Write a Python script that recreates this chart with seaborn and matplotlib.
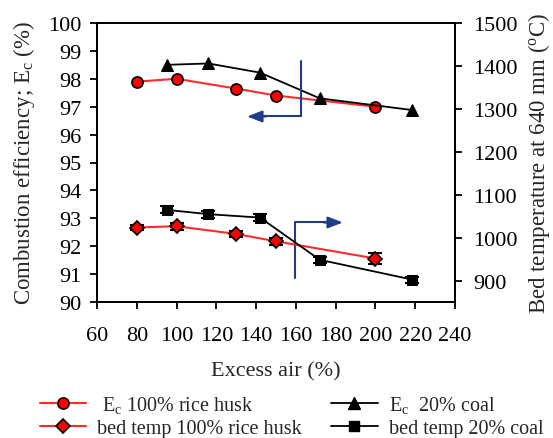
import matplotlib
matplotlib.use("Agg")
import matplotlib.pyplot as plt
import seaborn as sns
import pandas as pd
from matplotlib.lines import Line2D

# ---- data ----
rh_air = [80, 100, 130, 150, 200]
rh_ec = [97.9, 98.0, 97.65, 97.4, 97.0]
rh_bed = [1025, 1028, 1010, 993, 953]
rh_bed_err = [6, 8, 7, 8, 12]

coal_air = [95, 116, 142, 172, 218.5]
coal_ec = [98.5, 98.55, 98.22, 97.3, 96.88]
coal_bed = [1066, 1056, 1048, 950, 904]
coal_bed_err = [8, 8, 8, 7, 7]

x_ticks = [60, 80, 100, 120, 140, 160, 180, 200, 220, 240]
left_ticks = list(range(90, 101))
right_ticks = [900, 1000, 1100, 1200, 1300, 1400, 1500]

labels = [r" E$_\mathrm{c}$ 100% rice husk", "bed temp 100% rice husk",
          r"E$_\mathrm{c}$  20% coal", "bed temp 20% coal"]

sns.set_style("ticks")
plt.rcParams["font.family"] = ["Liberation Serif", "DejaVu Serif"]
plt.rcParams["mathtext.fontset"] = "custom"
plt.rcParams["mathtext.rm"] = "Liberation Serif"
plt.rcParams["mathtext.it"] = "Liberation Serif:italic"
plt.rcParams["axes.unicode_minus"] = False

RED = "#ff2a2a"
NAVY = "#1f3c88"

fig = plt.figure(figsize=(5.53, 4.39), dpi=100)
ax = fig.add_axes([97 / 553, 1 - 303 / 439, (455 - 97) / 553, (303 - 24) / 439])
ax2 = ax.twinx()

df_rh = pd.DataFrame({"air": rh_air, "ec": rh_ec, "bed": rh_bed})
df_coal = pd.DataFrame({"air": coal_air, "ec": coal_ec, "bed": coal_bed})

# efficiency on left axis
sns.lineplot(data=df_rh, x="air", y="ec", ax=ax, color=RED, lw=1.5, marker="o",
             markersize=8, markerfacecolor="red", markeredgecolor="black",
             markeredgewidth=1.2, zorder=4)
sns.lineplot(data=df_coal, x="air", y="ec", ax=ax, color="black", lw=1.3, marker="^",
             markersize=8, markerfacecolor="black", markeredgecolor="black", zorder=4)

# bed temperature on right axis
ax2.errorbar(rh_air, rh_bed, yerr=rh_bed_err, fmt="none", ecolor="black",
             elinewidth=1.2, capsize=5, capthick=1.5, zorder=3)
ax2.errorbar(coal_air, coal_bed, yerr=coal_bed_err, fmt="none", ecolor="black",
             elinewidth=1.2, capsize=5, capthick=1.5, zorder=3)
sns.lineplot(data=df_rh, x="air", y="bed", ax=ax2, color=RED, lw=1.5, marker="D",
             markersize=7.5, markerfacecolor="red", markeredgecolor="black",
             markeredgewidth=1.2, zorder=4)
sns.lineplot(data=df_coal, x="air", y="bed", ax=ax2, color="black", lw=1.3, marker="s",
             markersize=7, markerfacecolor="black", markeredgecolor="black", zorder=4)

# axes limits / ticks
ax.set_xlim(60, 240)
ax.set_ylim(90, 100)
ax2.set_ylim(852, 1497)
ax.set_xticks(x_ticks)
ax.set_yticks(left_ticks)
ax2.set_yticks(right_ticks)
for a in (ax, ax2):
    a.tick_params(direction="out", length=5, width=1.3, labelsize=16, colors="black")
    for s in a.spines.values():
        s.set_linewidth(1.3)
        s.set_color("black")
        s.set_visible(True)
ax.tick_params(axis="x", pad=12)
ax.tick_params(axis="y", pad=6)
ax2.tick_params(axis="y", pad=8)

ax.set_xlabel("Excess air (%)", fontsize=16, labelpad=12)
ax.set_ylabel(r"Combustion efficiency; E$_\mathrm{c}$ (%)", fontsize=16.5, labelpad=8)
ax2.set_ylabel(r"Bed temperature at 640 mm ($^\mathrm{o}$C)", fontsize=16.5, labelpad=6)

# direction arrows
ax.plot([162.5, 162.5, 142], [98.65, 96.65, 96.65], color=NAVY, lw=1.5, zorder=5)
ax.annotate("", xy=(135.5, 96.65), xytext=(145, 96.65),
            arrowprops=dict(arrowstyle="-|>,head_length=0.9,head_width=0.35",
                            color=NAVY, lw=1.5, shrinkA=0, shrinkB=0), zorder=5)
ax.plot([159.7, 159.7, 177], [90.85, 92.85, 92.85], color=NAVY, lw=1.5, zorder=5)
ax.annotate("", xy=(183.6, 92.85), xytext=(174, 92.85),
            arrowprops=dict(arrowstyle="-|>,head_length=0.9,head_width=0.35",
                            color=NAVY, lw=1.5, shrinkA=0, shrinkB=0), zorder=5)

# legend
handles = [
    Line2D([], [], color=RED, lw=1.5, marker="o", markersize=8,
           markerfacecolor="red", markeredgecolor="black", markeredgewidth=1.2),
    Line2D([], [], color=RED, lw=1.5, marker="D", markersize=7.5,
           markerfacecolor="red", markeredgecolor="black", markeredgewidth=1.2),
    Line2D([], [], color="black", lw=1.3, marker="^", markersize=8,
           markerfacecolor="black"),
    Line2D([], [], color="black", lw=1.3, marker="s", markersize=7,
           markerfacecolor="black"),
]
fig.legend(handles, labels, ncol=2, loc="center left", bbox_to_anchor=(40 / 553, 1 - 417 / 439),
           frameon=False, fontsize=14.5, handlelength=2.3, handletextpad=0.55,
           columnspacing=1.45, labelspacing=0.2, borderaxespad=0, borderpad=0)

fig.savefig("out.png", dpi=100)
